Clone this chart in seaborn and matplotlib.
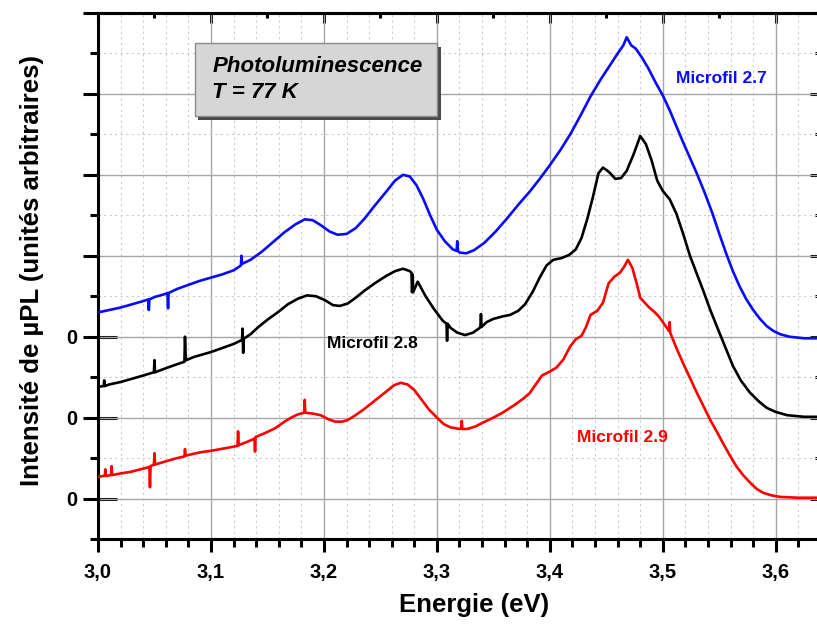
import numpy as np
import pandas as pd
import seaborn as sns
import matplotlib.pyplot as plt
from matplotlib.ticker import MultipleLocator, FuncFormatter, FixedLocator, NullLocator
from matplotlib.patches import Rectangle

sns.set_theme(style='white')
plt.rcParams['font.family'] = ['Liberation Sans', 'DejaVu Sans']
plt.rcParams['font.weight'] = 'bold'
plt.rcParams['xtick.bottom'] = True
plt.rcParams['ytick.left'] = True

# --- spectra (energy in eV, offset intensity) ---
# narrow spikes (cosmic rays) are kept as three close points
energy_27 = [3.000, 3.010, 3.020, 3.030, 3.040, 3.0445, 3.045, 3.0455, 3.050, 3.060,
             3.0615, 3.062, 3.0625, 3.070, 3.080, 3.090, 3.100, 3.110, 3.120, 3.1265,
             3.127, 3.1275, 3.135, 3.145, 3.155, 3.165, 3.175, 3.183, 3.190, 3.197,
             3.205, 3.212, 3.220, 3.228, 3.236, 3.245, 3.255, 3.263, 3.270, 3.276,
             3.282, 3.288, 3.294, 3.300, 3.307, 3.314, 3.3175, 3.318, 3.3185, 3.320,
             3.326, 3.333, 3.342, 3.352, 3.362, 3.372, 3.382, 3.391, 3.400, 3.409,
             3.418, 3.427, 3.436, 3.445, 3.453, 3.460, 3.465, 3.468, 3.472, 3.476,
             3.481, 3.487, 3.494, 3.500, 3.506, 3.512, 3.518, 3.524, 3.530, 3.537,
             3.544, 3.550, 3.556, 3.562, 3.568, 3.574, 3.580, 3.586, 3.592, 3.598,
             3.604, 3.612, 3.625, 3.640]
pl_27 = [2.30, 2.33, 2.36, 2.40, 2.44, 2.46, 2.33, 2.46, 2.49, 2.53,
         2.54, 2.35, 2.54, 2.59, 2.64, 2.69, 2.73, 2.77, 2.82, 2.88,
         3.00, 2.90, 2.95, 3.05, 3.17, 3.29, 3.39, 3.45, 3.44, 3.38,
         3.30, 3.26, 3.27, 3.34, 3.46, 3.62, 3.79, 3.93, 4.00, 3.98,
         3.87, 3.70, 3.50, 3.32, 3.18, 3.08, 3.06, 3.18, 3.06, 3.04,
         3.03, 3.07, 3.16, 3.30, 3.46, 3.63, 3.79, 3.95, 4.12, 4.30,
         4.50, 4.73, 4.97, 5.18, 5.35, 5.50, 5.60, 5.70, 5.60, 5.56,
         5.46, 5.32, 5.13, 4.98, 4.80, 4.60, 4.40, 4.21, 4.02, 3.78,
         3.52, 3.27, 3.03, 2.81, 2.62, 2.46, 2.33, 2.22, 2.13, 2.07,
         2.03, 2.00, 1.98, 1.98]

energy_28 = [3.000, 3.005, 3.0055, 3.006, 3.010, 3.020, 3.030, 3.040, 3.0495, 3.050,
             3.0505, 3.060, 3.070, 3.0765, 3.077, 3.0775, 3.078, 3.085, 3.095, 3.100,
             3.110, 3.120, 3.1275, 3.128, 3.1285, 3.129, 3.1295, 3.135, 3.142, 3.150,
             3.159, 3.168, 3.177, 3.185, 3.193, 3.201, 3.208, 3.214, 3.221, 3.228,
             3.236, 3.245, 3.255, 3.263, 3.270, 3.276, 3.2775, 3.278, 3.2785, 3.279,
             3.283, 3.290, 3.297, 3.305, 3.3085, 3.309, 3.3095, 3.312, 3.318, 3.325,
             3.332, 3.338, 3.3385, 3.339, 3.3395, 3.344, 3.350, 3.358, 3.365, 3.372,
             3.378, 3.385, 3.391, 3.397, 3.403, 3.410, 3.417, 3.423, 3.428, 3.433,
             3.438, 3.443, 3.447, 3.452, 3.458, 3.463, 3.468, 3.474, 3.480, 3.485,
             3.490, 3.495, 3.500, 3.506, 3.512, 3.518, 3.524, 3.530, 3.536, 3.542,
             3.548, 3.555, 3.562, 3.569, 3.577, 3.585, 3.592, 3.600, 3.610, 3.625,
             3.640]
pl_28 = [1.38, 1.39, 1.46, 1.39, 1.41, 1.44, 1.48, 1.52, 1.56, 1.71,
         1.56, 1.61, 1.66, 1.69, 2.00, 1.80, 1.71, 1.75, 1.79, 1.81,
         1.86, 1.91, 1.96, 2.10, 1.80, 1.97, 1.98, 2.03, 2.12, 2.21,
         2.30, 2.40, 2.47, 2.51, 2.50, 2.45, 2.39, 2.38, 2.41, 2.48,
         2.57, 2.66, 2.75, 2.81, 2.84, 2.81, 2.79, 2.55, 2.77, 2.55,
         2.68, 2.50, 2.35, 2.20, 2.16, 1.95, 2.16, 2.11, 2.05, 2.02,
         2.05, 2.11, 2.12, 2.28, 2.12, 2.18, 2.22, 2.25, 2.27, 2.32,
         2.40, 2.56, 2.73, 2.88, 2.95, 2.97, 3.01, 3.08, 3.22, 3.45,
         3.72, 4.02, 4.09, 4.04, 3.95, 3.96, 4.05, 4.25, 4.48, 4.38,
         4.18, 3.93, 3.80, 3.70, 3.52, 3.27, 3.00, 2.78, 2.56, 2.33,
         2.12, 1.88, 1.64, 1.46, 1.31, 1.20, 1.12, 1.07, 1.03, 1.01,
         1.01]

energy_29 = [3.000, 3.006, 3.0065, 3.007, 3.0115, 3.012, 3.0125, 3.020, 3.029, 3.040,
             3.0455, 3.046, 3.0465, 3.0495, 3.050, 3.0505, 3.060, 3.070, 3.0765, 3.077,
             3.0775, 3.090, 3.100, 3.112, 3.1235, 3.124, 3.1245, 3.132, 3.1385, 3.139,
             3.1395, 3.148, 3.157, 3.165, 3.171, 3.177, 3.1825, 3.183, 3.1835, 3.190,
             3.197, 3.204, 3.210, 3.216, 3.221, 3.228, 3.236, 3.245, 3.255, 3.262,
             3.268, 3.274, 3.280, 3.286, 3.293, 3.300, 3.306, 3.312, 3.320, 3.3215,
             3.322, 3.3225, 3.327, 3.334, 3.341, 3.350, 3.358, 3.368, 3.376, 3.382,
             3.388, 3.393, 3.400, 3.406, 3.412, 3.418, 3.423, 3.428, 3.432, 3.436,
             3.442, 3.447, 3.452, 3.457, 3.462, 3.466, 3.469, 3.473, 3.477, 3.480,
             3.484, 3.488, 3.493, 3.497, 3.502, 3.5055, 3.506, 3.5065, 3.512, 3.518,
             3.524, 3.530, 3.536, 3.542, 3.548, 3.553, 3.559, 3.565, 3.571, 3.577,
             3.583, 3.589, 3.596, 3.604, 3.620, 3.640]
pl_29 = [0.27, 0.28, 0.36, 0.28, 0.29, 0.40, 0.29, 0.31, 0.33, 0.37,
         0.39, 0.14, 0.40, 0.42, 0.56, 0.42, 0.46, 0.50, 0.52, 0.61,
         0.53, 0.57, 0.59, 0.62, 0.65, 0.83, 0.66, 0.70, 0.74, 0.58,
         0.76, 0.81, 0.87, 0.95, 1.00, 1.04, 1.06, 1.22, 1.06, 1.05,
         1.03, 0.98, 0.95, 0.95, 0.97, 1.03, 1.11, 1.21, 1.32, 1.40,
         1.43, 1.41, 1.34, 1.23, 1.10, 1.00, 0.92, 0.88, 0.86, 0.86,
         0.96, 0.86, 0.86, 0.89, 0.94, 1.00, 1.06, 1.15, 1.23, 1.30,
         1.42, 1.52, 1.57, 1.62, 1.72, 1.88, 1.97, 2.01, 2.12, 2.27,
         2.32, 2.42, 2.66, 2.74, 2.79, 2.87, 2.95, 2.85, 2.65, 2.48,
         2.42, 2.36, 2.30, 2.24, 2.14, 2.07, 2.18, 2.05, 1.86, 1.67,
         1.49, 1.31, 1.14, 0.97, 0.82, 0.69, 0.54, 0.40, 0.29, 0.20,
         0.12, 0.07, 0.04, 0.02, 0.01, 0.01]

series = [
    ('Microfil 2.7', energy_27, pl_27, '#0a0aff'),
    ('Microfil 2.8', energy_28, pl_28, '#000000'),
    ('Microfil 2.9', energy_29, pl_29, '#ff0000'),
]

fig = plt.figure(figsize=(8.17, 6.24), dpi=100)
ax = fig.add_axes([98 / 817, 85 / 624, 723 / 817, 526 / 624])

for name, e, y, c in series:
    sns.lineplot(x=e, y=y, color=c, linewidth=1.9, estimator=None, sort=False,
                 ax=ax, zorder=3)

ax.set_xlim(3.0, 3.64)
ax.set_ylim(-0.5, 6.0)

# grid: solid major, dotted minor
ax.xaxis.set_major_locator(MultipleLocator(0.1))
ax.xaxis.set_minor_locator(MultipleLocator(0.02))
ax.yaxis.set_major_locator(MultipleLocator(1))
ax.yaxis.set_minor_locator(MultipleLocator(0.5))
ax.set_axisbelow(True)
ax.grid(which='major', color='#a6a6a6', linewidth=1.0, linestyle='-')
ax.grid(which='minor', color='#cccccc', linewidth=0.8, linestyle=(0, (2, 3)))

ax.xaxis.set_major_formatter(FuncFormatter(lambda v, p: f'{v:.1f}'.replace('.', ',')))
ax.yaxis.set_major_formatter(FuncFormatter(lambda v, p: '0' if round(v) in (0, 1, 2) else ''))

for s in ax.spines.values():
    s.set_linewidth(2.2)
    s.set_color('black')

ax.tick_params(axis='x', which='major', direction='out', length=9, width=2.2,
               labelsize=14.5, pad=8, color='black', labelcolor='black')
ax.tick_params(axis='x', which='minor', direction='out', length=5.5, width=2.2, color='black')
ax.tick_params(axis='y', which='major', direction='out', length=10.8, width=2.2,
               labelsize=14.5, pad=4, color='black', labelcolor='black')
ax.tick_params(axis='y', which='minor', direction='out', length=5.8, width=2.2, color='black')
ax.tick_params(bottom=True, left=True, which='both')

# inward ticks on top and right, inward part of the labelled zero ticks
top = ax.secondary_xaxis('top')
top.xaxis.set_major_locator(MultipleLocator(0.1))
top.xaxis.set_minor_locator(MultipleLocator(0.05))
top.tick_params(which='major', direction='in', length=7.2, width=2.2, labeltop=False, color='black')
top.tick_params(which='minor', direction='in', length=3.6, width=2.2, color='black')
top.spines['top'].set_linewidth(2.2)

right = ax.secondary_yaxis('right')
right.yaxis.set_major_locator(MultipleLocator(1))
right.yaxis.set_minor_locator(MultipleLocator(0.5))
right.tick_params(which='major', direction='in', length=8, width=2.2, labelright=False, color='black')
right.tick_params(which='minor', direction='in', length=4, width=2.2, color='black')

left_in = ax.secondary_yaxis('left')
left_in.yaxis.set_major_locator(FixedLocator([0, 1, 2]))
left_in.yaxis.set_minor_locator(NullLocator())
left_in.tick_params(which='major', direction='in', length=13.5, width=2.2, labelleft=False, color='black')

ax.set_xlabel('Energie (eV)', fontsize=18.5, fontweight='bold', color='black')
ax.set_ylabel('Intensité de µPL (unités arbitraires)', fontsize=18.5, fontweight='bold', color='black')
ax.xaxis.set_label_coords(0.52, -0.102)
ax.yaxis.set_label_coords(-0.074, 0.51)

# annotation box with shadow
ax.add_patch(Rectangle((0.139, 0.797), 0.335, 0.139, transform=ax.transAxes,
                       facecolor='#4a4a4a', edgecolor='none', zorder=5, clip_on=False))
ax.add_patch(Rectangle((0.134, 0.804), 0.335, 0.139, transform=ax.transAxes,
                       facecolor='#d6d6d6', edgecolor='#8c8c8c', linewidth=1.0, zorder=6,
                       clip_on=False))
ax.text(0.158, 0.873, 'Photoluminescence\nT = 77 K', transform=ax.transAxes,
        fontsize=16, fontweight='bold', fontstyle='italic', ha='left', va='center',
        linespacing=1.3, color='black', zorder=7)

label_pos = {'Microfil 2.7': (3.552, 5.19), 'Microfil 2.8': (3.2425, 1.92),
             'Microfil 2.9': (3.464, 0.76)}
for name, e, y, c in series:
    lx, ly = label_pos[name]
    ax.text(lx, ly, name, color=c, fontsize=12.5, fontweight='bold',
            ha='center', va='center', zorder=4)

fig.savefig('out.png', dpi=100)
